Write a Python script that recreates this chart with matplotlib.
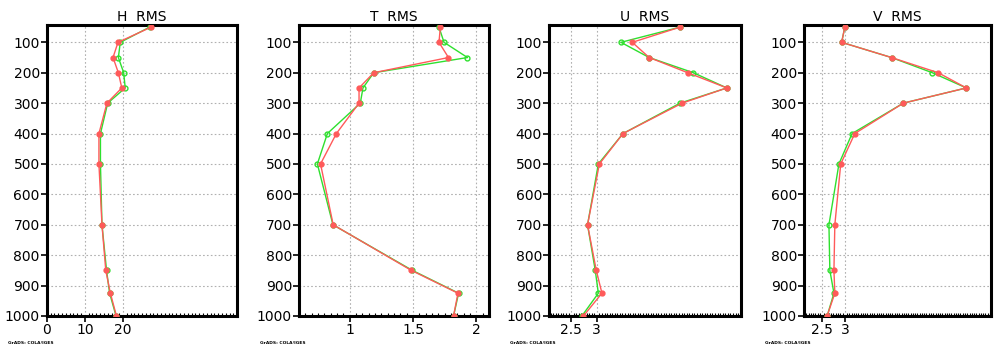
import matplotlib
matplotlib.use("Agg")
import matplotlib.pyplot as plt
from matplotlib.ticker import MultipleLocator

levels = [50, 100, 150, 200, 250, 300, 400, 500, 700, 850, 925, 1000]

titles = ["H  RMS", "T  RMS", "U  RMS", "V  RMS"]

h_red   = [27.4, 18.7, 17.4, 18.8, 19.7, 15.8, 13.7, 13.7, 14.5, 15.5, 16.7, 18.3]
h_green = [27.0, 19.3, 18.8, 20.2, 20.6, 16.0, 14.1, 14.1, 14.5, 15.7, 16.5, 18.2]

t_red   = [1.716, 1.705, 1.78, 1.19, 1.074, 1.074, 0.895, 0.77, 0.87, 1.487, 1.855, 1.82]
t_green = [1.705, 1.745, 1.93, 1.19, 1.105, 1.084, 0.824, 0.745, 0.868, 1.495, 1.86, 1.82]

u_red   = [4.62, 3.69, 4.02, 4.77, 5.53, 4.66, 3.51, 3.05, 2.82, 2.99, 3.10, 2.74]
u_green = [4.62, 3.47, 4.02, 4.88, 5.53, 4.62, 3.51, 3.03, 2.82, 2.97, 3.03, 2.71]

v_red   = [3.0, 2.93, 4.03, 5.06, 5.68, 4.29, 3.22, 2.91, 2.78, 2.76, 2.78, 2.61]
v_green = [3.0, 2.93, 4.03, 4.93, 5.68, 4.29, 3.16, 2.87, 2.65, 2.67, 2.76, 2.61]

reds = [h_red, t_red, u_red, v_red]
greens = [h_green, t_green, u_green, v_green]

xlims = [(0, 50), (0.6, 2.1), (2.07, 5.8), (2.1, 6.23)]
xticks = [[0, 10, 20], [1, 1.5, 2], [2.5, 3], [2.5, 3]]
xticklabels = [["0", "10", "20"], ["1", "1.5", "2"], ["2.5", "3"], ["2.5", "3"]]
minor_steps = [1, 0.05, 0.05, 0.05]

yticks = [100, 200, 300, 400, 500, 600, 700, 800, 900, 1000]

W, H = 1000, 354
fig = plt.figure(figsize=(W / 100, H / 100), dpi=100)
plt.rcParams['font.family'] = ['DejaVu Sans']

lefts = [46.7, 299, 549, 804]
rights = [237.3, 489, 740.7, 991.3]
top, bottom = 25, 316

red_c = "#ff5a5a"
green_c = "#2ee02e"

for i in range(4):
    ax = fig.add_axes([lefts[i] / W, 1 - bottom / H,
                       (rights[i] - lefts[i]) / W, (bottom - top) / H])
    ax.plot(greens[i], levels, color=green_c, lw=1.0, marker="o",
            ms=3.5, mfc="none", mec=green_c, mew=1.0, zorder=3)
    ax.plot(reds[i], levels, color=red_c, lw=1.0, marker="o",
            ms=3.5, mfc=red_c, mec=red_c, zorder=4)
    ax.set_ylim(1000, 43)
    ax.set_xlim(*xlims[i])
    ax.set_yticks(yticks)
    ax.set_yticklabels([str(v) for v in yticks])
    ax.set_xticks(xticks[i])
    ax.set_xticklabels(xticklabels[i])
    ax.xaxis.set_minor_locator(MultipleLocator(minor_steps[i]))
    ax.tick_params(axis="both", which="major", labelsize=10, length=4,
                   width=1.2, direction="out", pad=1)
    ax.tick_params(axis="x", which="minor", length=2.5, width=0.8,
                   direction="in")
    ax.grid(True, which="major", color="#b0b0b0", ls=(0, (1.5, 2)), lw=0.8)
    for s in ax.spines.values():
        s.set_linewidth(2.2)
    ax.set_title(titles[i], fontsize=10, pad=3)
    fig.text((lefts[i] - 39) / W, 1 - 343 / H, "GrADS: COLA/IGES",
             fontsize=3.2, fontweight="bold", ha="left", va="center")

fig.savefig("out.png", dpi=100)
